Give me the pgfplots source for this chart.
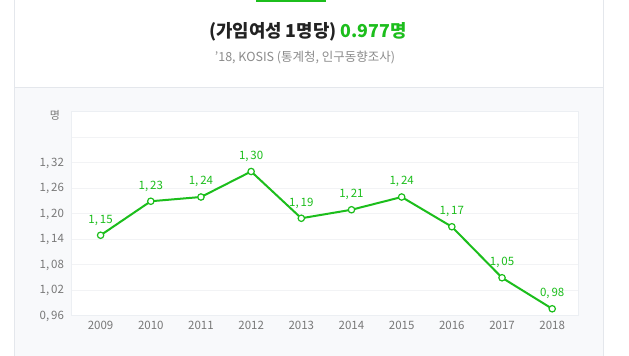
\documentclass[border=0pt]{standalone}
\usepackage{pgfplots}
\pgfplotsset{compat=1.18}
\usepackage{fontspec}
\setmainfont{Noto Sans CJK KR}
\definecolor{lg}{RGB}{28,190,28}
\definecolor{panel}{RGB}{248,249,251}
\definecolor{boxline}{RGB}{228,231,236}
\definecolor{frame}{RGB}{236,239,243}
\definecolor{gridc}{RGB}{242,243,245}
\definecolor{tickc}{RGB}{120,120,120}
\definecolor{titlec}{RGB}{34,34,34}
\definecolor{subc}{RGB}{140,140,140}
\begin{document}
\begin{tikzpicture}
\path[use as bounding box] (0bp,0bp) rectangle (629bp,356bp);
\fill[white] (0bp,0bp) rectangle (629bp,356bp);
\fill[panel] (14.5bp,0bp) rectangle (603bp,268.7bp);
\draw[boxline, line width=1bp] (14.5bp,-1bp) -- (14.5bp,357bp);
\draw[boxline, line width=1bp] (603bp,-1bp) -- (603bp,357bp);
\draw[boxline, line width=1bp] (14.5bp,268.7bp) -- (603bp,268.7bp);
\fill[lg] (256bp,354bp) rectangle (326bp,356bp);
\node[font=\fontsize{17.8bp}{19bp}\selectfont\bfseries, text=titlec, inner sep=0pt] at (308bp,324bp) {(가임여성 1명당) \textcolor{lg}{0.977명}};
\node[font=\fontsize{12.5bp}{14bp}\selectfont, text=subc, inner sep=0pt] at (305bp,298bp) {'18, KOSIS (통계청, 인구동향조사)};
\node[font=\fontsize{11bp}{12bp}\selectfont, text=tickc, inner sep=0pt] at (55bp,241bp) {명};
\begin{axis}[
  at={(71bp,40bp)}, anchor=south west,
  scale only axis, width=507.3bp, height=204bp,
  xmin=2008.41, xmax=2018.52,
  ymin=0.96, ymax=1.44,
  xtick={2009,2010,2011,2012,2013,2014,2015,2016,2017,2018},
  xticklabels={2009,2010,2011,2012,2013,2014,2015,2016,2017,2018},
  ytick={0.96,1.02,1.08,1.14,1.20,1.26,1.32,1.38,1.44},
  yticklabels={{0,\,96},{1,\,02},{1,\,08},{1,\,14},{1,\,20},{1,\,26},{1,\,32},{},{}},
  major tick length=0pt,
  tick label style={font=\fontsize{11.5bp}{12bp}\selectfont, text=tickc},
  yticklabel style={xshift=-3.5bp},
  xticklabel style={yshift=-2bp},
  ymajorgrids, xmajorgrids=false,
  grid style={draw=gridc, line width=1bp},
  axis line style={draw=frame, line width=1bp},
  axis background/.style={fill=white},
  clip=false,
  nodes near coords,
  point meta=explicit symbolic,
  every node near coord/.append style={font=\fontsize{11.5bp}{12bp}\selectfont, text=lg, yshift=6bp},
]
\addplot[lg, line width=2bp, mark=*, mark size=3.2bp, mark options={fill=white, draw=lg, line width=1.2bp}]
coordinates {
(2009,1.15) [{1,\,15}]
(2010,1.23) [{1,\,23}]
(2011,1.24) [{1,\,24}]
(2012,1.30) [{1,\,30}]
(2013,1.19) [{1,\,19}]
(2014,1.21) [{1,\,21}]
(2015,1.24) [{1,\,24}]
(2016,1.17) [{1,\,17}]
(2017,1.05) [{1,\,05}]
(2018,0.977) [{0,\,98}]
};
\end{axis}
\end{tikzpicture}
\end{document}
